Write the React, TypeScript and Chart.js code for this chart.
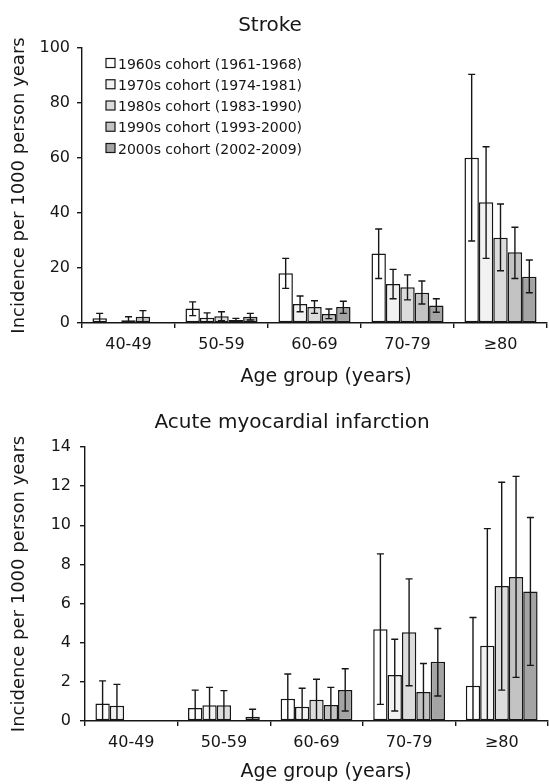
import React, { useEffect, useRef } from 'react';
import { Chart, registerables } from 'chart.js';

Chart.register(...registerables);

const ageGroups = ['40-49', '50-59', '60-69', '70-79', '≥80'];
const cohortLabels = [
  '1960s cohort (1961-1968)',
  '1970s cohort (1974-1981)',
  '1980s cohort (1983-1990)',
  '1990s cohort (1993-2000)',
  '2000s cohort (2002-2009)',
];

// Stroke incidence (per 1000 person years)
const stroke1960s = [1.7, 5.3, 18.1, 25.3, 60.1];
const stroke1970s = [null, 1.9, 6.9, 14.2, 43.9];
const stroke1980s = [1.0, 2.5, 5.8, 13.0, 31.0];
const stroke1990s = [2.3, 1.1, 3.3, 11.0, 25.7];
const stroke2000s = [null, 2.3, 5.8, 6.4, 16.8];

const strokeHigh1960s = [3.5, 7.7, 23.5, 34.2, 90.4];
const strokeHigh1970s = [null, 3.7, 9.8, 19.5, 64.1];
const strokeHigh1980s = [2.3, 4.1, 8.1, 17.5, 43.3];
const strokeHigh1990s = [4.5, 1.7, 5.1, 15.3, 34.8];
const strokeHigh2000s = [null, 3.5, 7.9, 8.8, 22.9];

const strokeLow1960s = [0, 2.7, 12.6, 16.2, 29.8];
const strokeLow1970s = [null, 0.5, 4.1, 8.8, 23.5];
const strokeLow1980s = [0, 0.8, 3.5, 8.4, 19.0];
const strokeLow1990s = [0.3, 0.5, 1.6, 6.9, 16.2];
const strokeLow2000s = [null, 1.1, 3.5, 3.9, 11.0];

// Acute myocardial infarction incidence (per 1000 person years)
const ami1960s = [0.89, 0.67, 1.14, 4.69, 1.8];
const ami1970s = [0.78, 0.8, 0.73, 2.35, 3.84];
const ami1980s = [null, 0.8, 1.09, 4.54, 6.9];
const ami1990s = [null, null, 0.82, 1.48, 7.36];
const ami2000s = [null, 0.22, 1.59, 3.03, 6.62];

const amiHigh1960s = [2.05, 1.58, 2.4, 8.54, 5.29];
const amiHigh1970s = [1.87, 1.72, 1.67, 4.18, 9.83];
const amiHigh1980s = [null, 1.55, 2.13, 7.26, 12.2];
const amiHigh1990s = [null, null, 1.72, 2.94, 12.5];
const amiHigh2000s = [null, 0.6, 2.67, 4.73, 10.4];

const amiLow1960s = [0, 0, 0, 0.85, 0];
const amiLow1970s = [0, 0, 0, 0.51, 0];
const amiLow1980s = [null, 0, 0, 1.8, 1.58];
const amiLow1990s = [null, null, 0, 0, 2.23];
const amiLow2000s = [null, 0, 0.51, 1.28, 2.84];

const strokeTicks = { max: 100, step: 20 };
const amiTicks = { max: 14, step: 2 };

const FILLS = ['#ffffff', '#f2f2f2', '#dcdcdc', '#c3c3c3', '#a4a4a4'];
const INK = '#161616';
const FAMILY = '"DejaVu Sans", Arial, sans-serif';

type TextItem = { text: string; x: number; y: number; size: number };

function errorBarPlugin(high: (number | null)[][], low: (number | null)[][]) {
  return {
    id: 'errorBars',
    afterDatasetsDraw(chart: any) {
      const { ctx } = chart;
      const y = chart.scales.y;
      chart.data.datasets.forEach((_ds: any, di: number) => {
        const meta = chart.getDatasetMeta(di);
        meta.data.forEach((bar: any, i: number) => {
          const h = high[di][i];
          const l = low[di][i];
          if (h == null || l == null) return;
          const x = bar.x;
          const yh = y.getPixelForValue(h);
          const yl = y.getPixelForValue(l);
          ctx.save();
          ctx.strokeStyle = INK;
          ctx.lineWidth = 1.4;
          ctx.beginPath();
          ctx.moveTo(x, yh);
          ctx.lineTo(x, yl);
          ctx.moveTo(x - 3.5, yh);
          ctx.lineTo(x + 3.5, yh);
          if (l > 0) {
            ctx.moveTo(x - 3.5, yl);
            ctx.lineTo(x + 3.5, yl);
          }
          ctx.stroke();
          ctx.restore();
        });
      });
    },
  };
}

function textPlugin(items: TextItem[]) {
  return {
    id: 'freeTexts',
    afterDraw(chart: any) {
      const { ctx } = chart;
      ctx.save();
      ctx.fillStyle = INK;
      ctx.textAlign = 'center';
      ctx.textBaseline = 'alphabetic';
      items.forEach((t) => {
        ctx.font = `${t.size}px ${FAMILY}`;
        ctx.fillText(t.text, t.x, t.y);
      });
      ctx.restore();
    },
  };
}

function legendPlugin(show: boolean) {
  return {
    id: 'insideLegend',
    afterDraw(chart: any) {
      if (!show) return;
      const { ctx } = chart;
      ctx.save();
      ctx.font = `14px ${FAMILY}`;
      ctx.textAlign = 'left';
      ctx.textBaseline = 'alphabetic';
      chart.data.datasets.forEach((ds: any, i: number) => {
        const base = 68.5 + i * 21.25;
        ctx.fillStyle = ds.backgroundColor;
        ctx.fillRect(106, base - 10, 9, 9);
        ctx.strokeStyle = INK;
        ctx.lineWidth = 1.2;
        ctx.strokeRect(106, base - 10, 9, 9);
        ctx.fillStyle = INK;
        ctx.fillText(ds.label, 118, base);
      });
      ctx.restore();
    },
  };
}

function makeConfig(opts: {
  series: (number | null)[][];
  high: (number | null)[][];
  low: (number | null)[][];
  ticks: { max: number; step: number };
  yWidth: number;
  xHeight: number;
  padTop: number;
  padRight: number;
  yTickPad: number;
  texts: TextItem[];
  legend: boolean;
}): any {
  return {
    type: 'bar',
    data: {
      labels: ageGroups,
      datasets: opts.series.map((s, i) => ({
        label: cohortLabels[i],
        data: s,
        backgroundColor: FILLS[i],
        borderColor: INK,
        borderWidth: 1.5,
        borderSkipped: false,
        categoryPercentage: 0.775,
        barPercentage: 1,
      })),
    },
    options: {
      responsive: false,
      animation: false,
      layout: { padding: { top: opts.padTop, right: opts.padRight, left: 0, bottom: 0 } },
      plugins: {
        legend: { display: false },
        title: { display: false },
        tooltip: { enabled: false },
      },
      scales: {
        x: {
          type: 'category',
          offset: true,
          grid: {
            display: true,
            offset: true,
            drawOnChartArea: false,
            drawTicks: true,
            tickLength: 5,
            color: INK,
            lineWidth: 1.4,
          },
          border: { display: true, color: INK, width: 1.4 },
          ticks: {
            font: { family: FAMILY, size: 16 },
            color: INK,
            padding: 7,
            maxRotation: 0,
            autoSkip: false,
          },
          afterFit: (s: any) => {
            s.height = opts.xHeight;
          },
        },
        y: {
          min: 0,
          max: opts.ticks.max,
          ticks: {
            stepSize: opts.ticks.step,
            font: { family: FAMILY, size: 16 },
            color: INK,
            padding: opts.yTickPad,
          },
          grid: {
            drawOnChartArea: false,
            drawTicks: true,
            tickLength: 5,
            color: INK,
            lineWidth: 1.4,
          },
          border: { display: true, color: INK, width: 1.4 },
          title: {
            display: true,
            text: 'Incidence per 1000 person years',
            font: { family: FAMILY, size: 18 },
            color: INK,
            padding: { top: 9, bottom: 0 },
          },
          afterFit: (s: any) => {
            s.width = opts.yWidth;
          },
        },
      },
    },
    plugins: [errorBarPlugin(opts.high, opts.low), textPlugin(opts.texts), legendPlugin(opts.legend)],
  };
}

export default function App() {
  const topRef = useRef<HTMLCanvasElement>(null);
  const botRef = useRef<HTMLCanvasElement>(null);

  useEffect(() => {
    const top = new Chart(
      topRef.current as HTMLCanvasElement,
      makeConfig({
        series: [stroke1960s, stroke1970s, stroke1980s, stroke1990s, stroke2000s],
        high: [strokeHigh1960s, strokeHigh1970s, strokeHigh1980s, strokeHigh1990s, strokeHigh2000s],
        low: [strokeLow1960s, strokeLow1970s, strokeLow1980s, strokeLow1990s, strokeLow2000s],
        ticks: strokeTicks,
        yWidth: 82,
        xHeight: 72,
        padTop: 48,
        padRight: 2,
        yTickPad: 7,
        texts: [
          { text: 'Stroke', x: 270, y: 31, size: 20 },
          { text: 'Age group (years)', x: 326, y: 382, size: 19 },
        ],
        legend: true,
      })
    );
    const bot = new Chart(
      botRef.current as HTMLCanvasElement,
      makeConfig({
        series: [ami1960s, ami1970s, ami1980s, ami1990s, ami2000s],
        high: [amiHigh1960s, amiHigh1970s, amiHigh1980s, amiHigh1990s, amiHigh2000s],
        low: [amiLow1960s, amiLow1970s, amiLow1980s, amiLow1990s, amiLow2000s],
        ticks: amiTicks,
        yWidth: 85,
        xHeight: 63,
        padTop: 52,
        padRight: 1,
        yTickPad: 9,
        texts: [
          { text: 'Acute myocardial infarction', x: 292, y: 33, size: 20 },
          { text: 'Age group (years)', x: 326, y: 382, size: 19 },
        ],
        legend: false,
      })
    );
    return () => {
      top.destroy();
      bot.destroy();
    };
  }, []);

  return (
    <div style={{ position: 'absolute', left: 0, top: 0, width: 549, height: 784, background: '#fff' }}>
      <canvas ref={topRef} width={549} height={395} style={{ position: 'absolute', left: 0, top: 0 }} />
      <canvas ref={botRef} width={549} height={389} style={{ position: 'absolute', left: 0, top: 395 }} />
    </div>
  );
}
